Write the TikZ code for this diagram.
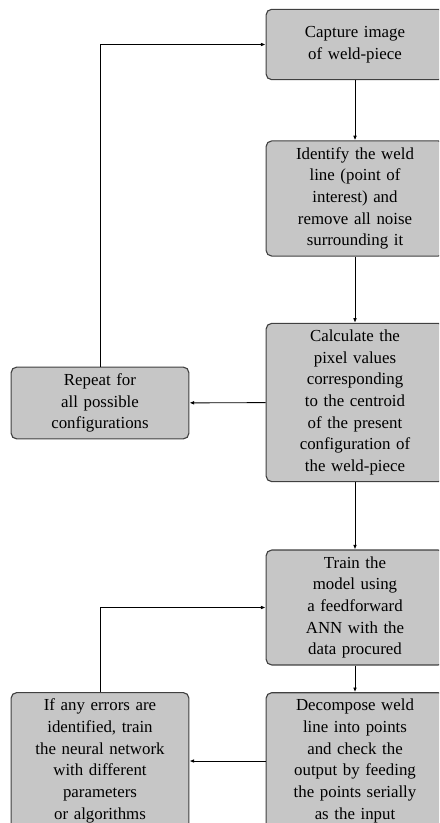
\documentclass[tikz,border=0pt]{standalone}
\usepackage{fontspec}
\setmainfont{Liberation Serif}
\usetikzlibrary{arrows.meta}
\definecolor{boxgray}{HTML}{C6C6C6}
\tikzset{
  stepbox/.style={draw=black!75, line width=0.6pt, fill=boxgray, rounded corners=3pt,
    align=center, text width=88pt, inner xsep=4pt, inner ysep=3.5pt,
    font=\fontsize{9.1}{11.7}\selectfont},
  link/.style={-{Latex[length=2.5pt,width=2pt]}, line width=0.5pt}
}
\begin{document}
\begin{tikzpicture}[x=0.54pt,y=-0.54pt]
				\clip(0,0)rectangle(439,823);
				\node[stepbox,minimum height=38pt](capture)at(355,44.5){Capture image\\of weld-piece};
				\node[stepbox](identify)at(355,198.5){Identify the weld\\line (point of\\interest) and\\remove all noise\\surrounding it};
				\node[stepbox](centroid)at(355,402.5){Calculate the\\pixel values\\corresponding\\to the centroid\\of the present\\configuration of\\the weld-piece};
				\node[stepbox](repeat)at(100,403){Repeat for\\all possible\\configurations};
				\node[stepbox](train)at(355,607.5){Train the\\model using\\a feedforward\\ANN with the\\data procured};
				\node[stepbox](decompose)at(355,761){Decompose weld\\line into points\\and check the\\output by feeding\\the points serially\\as the input};
				\node[stepbox](errors)at(100,761){If any errors are\\identified, train\\the neural network\\with different\\parameters\\or algorithms};
				\draw[link](capture)--(identify);
				\draw[link](identify)--(centroid);
				\draw[link](centroid)--(train);
				\draw[link](train)--(decompose);
				\draw[link](centroid)--(repeat);
				\draw[link](repeat.north)|-(capture.west);
				\draw[link](decompose)--(errors);
				\draw[link](errors.north)|-(train.west);
			\end{tikzpicture}
\end{document}
